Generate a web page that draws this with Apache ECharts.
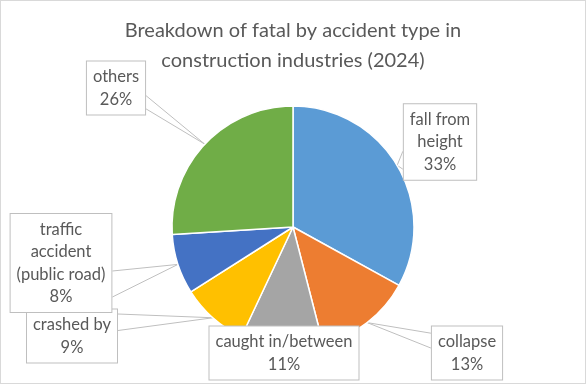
<!DOCTYPE html>
<html>
<head>
<meta charset="utf-8">
<script src="https://cdn.jsdelivr.net/npm/echarts@6/dist/echarts.min.js"></script>
<style>
  body { margin: 0; background: #fff; }
  #wrap { position: relative; width: 586px; height: 384px; }
  #main { width: 586px; height: 384px; }
  #frame { position: absolute; left: 0; top: 0; width: 586px; height: 384px; box-sizing: border-box; border: 1px solid #d9d9d9; pointer-events: none; }
</style>
</head>
<body>
<div id="wrap">
  <div id="main"></div>
  <div id="frame"></div>
</div>
<script>
// 数据
var categories = ["fall from height", "collapse", "caught in/between", "crashed by", "traffic accident (public road)", "others"];
var labelNames = ["fall from\nheight", "collapse", "caught in/between", "crashed by", "traffic\naccident\n(public road)", "others"];
var values = [33, 13, 11, 9, 8, 26];
var colors = ["#5b9bd5", "#ed7d31", "#a5a5a5", "#ffc000", "#4472c4", "#70ad47"];

// 标签框位置（中心点）以及引线连到框上的两个点（框宽高的比例）
var labelPos = [
  { x: 440, y: 142, a: [[0, 0.62], [0, 0.85]] },
  { x: 467, y: 353, a: [[0, 0.14], [0, 0.41]] },
  { x: 284, y: 353, a: null },
  { x: 72, y: 336, a: [[1, 0.1], [1, 0.4]] },
  { x: 61, y: 263, a: [[1, 0.58], [1, 0.84]] },
  { x: 116, y: 88, a: [[1, 0.64], [1, 0.88]] }
];

var chartDom = document.getElementById("main");
var myChart = echarts.init(chartDom);

var pieData = categories.map(function (name, i) {
  var item = {
    name: name,
    value: values[i],
    itemStyle: { color: colors[i] },
    label: { formatter: labelNames[i] + "\n{c}%" }
  };
  if (!labelPos[i].a) item.labelLine = { show: false };
  return item;
});

var option = {
  title: {
    text: "Breakdown of fatal by accident type in\nconstruction industries (2024)",
    left: "center",
    top: 11,
    textStyle: {
      fontFamily: "Lato",
      fontSize: 20,
      fontWeight: "normal",
      color: "#595959",
      lineHeight: 30
    }
  },
  series: [
    {
      type: "pie",
      center: [293, 227],
      radius: 121,
      startAngle: 90,
      clockwise: true,
      avoidLabelOverlap: false,
      data: pieData,
      itemStyle: { borderColor: "#fff", borderWidth: 1.5 },
      label: {
        show: true,
        position: "outside",
        fontFamily: "Lato",
        fontSize: 16.5,
        lineHeight: 22.5,
        color: "#595959",
        align: "center",
        backgroundColor: "#fff",
        borderColor: "#bfbfbf",
        borderWidth: 1,
        padding: [4, 6, 4, 6]
      },
      labelLine: {
        show: true,
        lineStyle: { color: "#bfbfbf", width: 1 }
      },
      labelLayout: function (params) {
        var p = labelPos[params.dataIndex];
        var w = params.labelRect.width;
        var h = params.labelRect.height;
        var res = { x: p.x, y: p.y, align: "center", verticalAlign: "middle" };
        if (p.a && params.labelLinePoints) {
          var left = p.x - w / 2;
          var top = p.y - h / 2;
          var s = params.labelLinePoints[0];
          res.labelLinePoints = [
            [left + p.a[0][0] * w, top + p.a[0][1] * h],
            [s[0], s[1]],
            [left + p.a[1][0] * w, top + p.a[1][1] * h]
          ];
        }
        return res;
      }
    }
  ]
};

option && myChart.setOption(option);
</script>
</body>
</html>
